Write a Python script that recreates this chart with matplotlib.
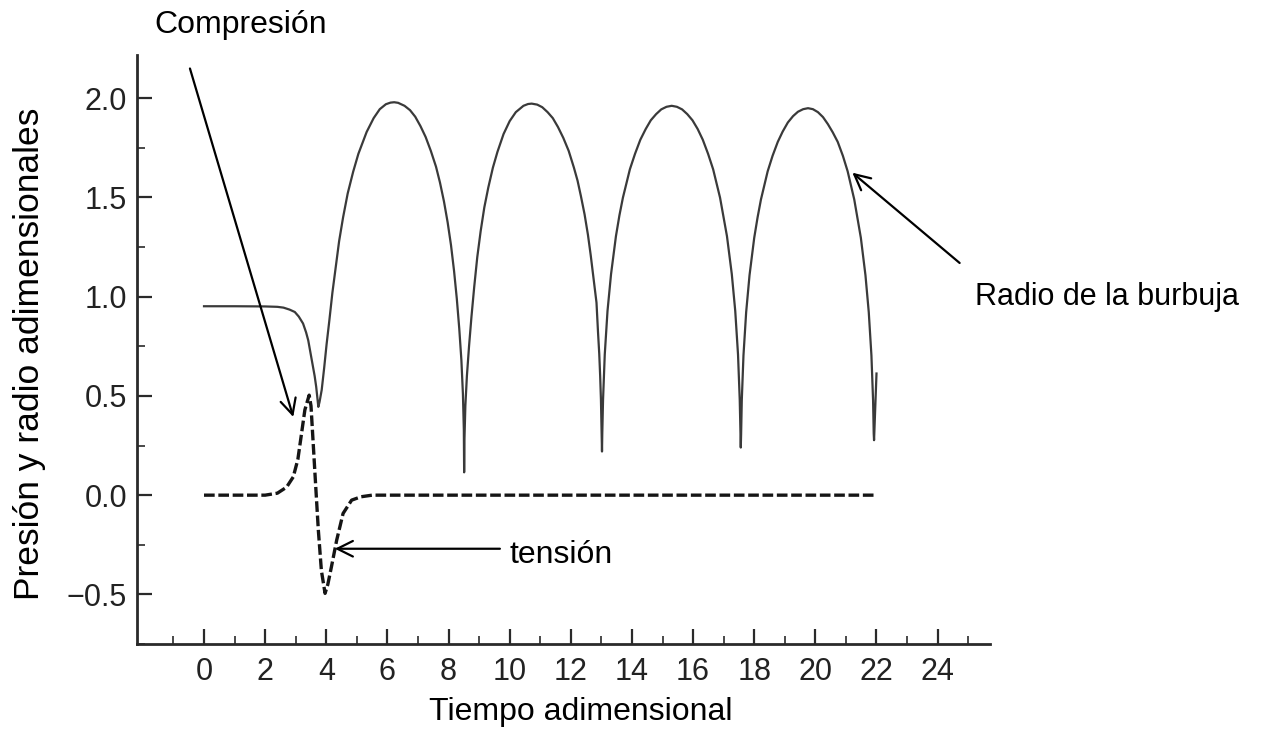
import matplotlib
matplotlib.use('Agg')
import matplotlib.pyplot as plt
from matplotlib.ticker import MultipleLocator, FixedLocator

plt.rcParams['font.family'] = ['Liberation Sans', 'DejaVu Sans']

# Radio de la burbuja (tiempo, radio)
radius_t = [0.0, 1.0, 2.0, 2.4, 2.6, 2.8, 2.97, 3.1, 3.24, 3.34, 3.41, 3.48, 3.55, 3.62, 3.67, 3.71, 3.74,
            # primer arco
            3.78, 3.85, 3.93, 4.01, 4.1, 4.2, 4.3, 4.42, 4.55, 4.7, 4.88, 5.05, 5.32, 5.55, 5.75, 5.95,
            6.1, 6.22, 6.35, 6.56, 6.74, 6.91, 7.08, 7.25, 7.42, 7.59, 7.72, 7.85, 7.97, 8.08, 8.18,
            8.27, 8.35, 8.42, 8.47, 8.50, 8.51,
            # segundo arco
            8.52, 8.55, 8.6, 8.67, 8.75, 8.84, 8.94, 9.05, 9.17, 9.3, 9.45, 9.6, 9.8, 10.0, 10.2, 10.45,
            10.6, 10.72, 10.9, 11.065, 11.24, 11.41, 11.58, 11.755, 11.93, 12.1, 12.22, 12.33, 12.45, 12.56,
            12.65, 12.72, 12.79, 12.84, 12.89, 12.93, 12.96, 12.985, 13.01, 13.02,
            # tercer arco
            13.029, 13.054, 13.11, 13.2, 13.316, 13.476, 13.59, 13.704, 13.932, 14.1, 14.274, 14.45, 14.616,
            14.79, 14.958, 15.13, 15.3, 15.47, 15.64, 15.81, 15.98, 16.15, 16.317, 16.49, 16.656, 16.882,
            17.108, 17.266, 17.379, 17.47, 17.526, 17.549, 17.56,
            # cuarto arco
            17.571, 17.593, 17.648, 17.736, 17.846, 18.0, 18.11, 18.22, 18.44, 18.6, 18.77, 18.93, 19.1,
            19.27, 19.43, 19.6, 19.76, 19.92, 20.084, 20.25, 20.408, 20.57, 20.732, 20.9, 21.056, 21.272,
            21.488, 21.639, 21.747, 21.834, 21.888, 21.909, 21.92, 22.0]
radius_r = [0.952, 0.952, 0.951, 0.949, 0.945, 0.935, 0.923, 0.9, 0.865, 0.82, 0.78, 0.72, 0.663, 0.6, 0.546, 0.49, 0.445,
            0.47, 0.53, 0.64, 0.76, 0.88, 1.02, 1.14, 1.28, 1.40, 1.52, 1.63, 1.72, 1.83, 1.90, 1.945, 1.97,
            1.978, 1.98, 1.977, 1.962, 1.94, 1.907, 1.86, 1.805, 1.735, 1.655, 1.575, 1.48, 1.375, 1.26, 1.13,
            0.99, 0.84, 0.68, 0.51, 0.33, 0.115,
            0.28, 0.45, 0.6, 0.75, 0.9, 1.05, 1.2, 1.33, 1.45, 1.55, 1.65, 1.73, 1.82, 1.885, 1.93, 1.962,
            1.971, 1.973, 1.968, 1.955, 1.93, 1.9, 1.855, 1.80, 1.735, 1.651, 1.585, 1.507, 1.415, 1.312,
            1.21, 1.12, 1.03, 0.97, 0.82, 0.712, 0.6, 0.483, 0.31, 0.22,
            0.31, 0.48, 0.708, 0.928, 1.114, 1.305, 1.41, 1.499, 1.642, 1.72, 1.791, 1.845, 1.889,
            1.92, 1.944, 1.957, 1.962, 1.957, 1.944, 1.92, 1.889, 1.845, 1.791, 1.72, 1.642, 1.499,
            1.305, 1.114, 0.928, 0.708, 0.48, 0.31, 0.24,
            0.308, 0.478, 0.704, 0.922, 1.108, 1.297, 1.4, 1.49, 1.632, 1.71, 1.78, 1.832, 1.878,
            1.91, 1.932, 1.945, 1.95, 1.945, 1.93, 1.905, 1.87, 1.828, 1.78, 1.71, 1.632, 1.49,
            1.297, 1.108, 0.922, 0.704, 0.478, 0.31, 0.277, 0.613]

# Presion (linea discontinua)
pressure_t = [0.0, 2.0, 2.4, 2.7, 2.92, 3.07, 3.19, 3.3, 3.44, 3.5, 3.58, 3.66, 3.74, 3.84, 3.96, 4.05,
              4.17, 4.34, 4.55, 4.83, 5.14, 5.5, 21.94]
pressure_p = [0.0, 0.0, 0.01, 0.04, 0.092, 0.18, 0.31, 0.43, 0.504, 0.45, 0.24, 0.03, -0.176, -0.38, -0.495, -0.45,
              -0.36, -0.227, -0.092, -0.025, -0.008, 0.0, 0.0]

x_ticks = [0, 2, 4, 6, 8, 10, 12, 14, 16, 18, 20, 22, 24]
x_minor = [-1, 1, 3, 5, 7, 9, 11, 13, 15, 17, 19, 21, 23, 25]
y_ticks = [-0.5, 0.0, 0.5, 1.0, 1.5, 2.0]

fig = plt.figure(figsize=(12.71, 7.36), dpi=100)
ax = fig.add_axes([0.1076, 0.125, 0.671, 0.8])

ax.plot(radius_t, radius_r, color='#3a3a3a', linewidth=1.6)
ax.plot(pressure_t, pressure_p, color='#151515', linewidth=2.4, linestyle=(0, (3.2, 1.1)))

ax.set_xlim(-2.2, 25.7)
ax.set_ylim(-0.75, 2.217)
ax.set_xticks(x_ticks)
ax.set_yticks(y_ticks)
ax.xaxis.set_minor_locator(FixedLocator(x_minor))
ax.yaxis.set_minor_locator(MultipleLocator(0.25))
ax.set_yticklabels([f"{v:.1f}".replace('-', '\u2212') for v in y_ticks])

for side in ['top', 'right']:
    ax.spines[side].set_visible(False)
for side in ['left', 'bottom']:
    ax.spines[side].set_linewidth(2.0)
    ax.spines[side].set_color('#2a2a2a')

ax.tick_params(which='major', direction='in', length=11, width=1.6, color='#2a2a2a',
               labelsize=22, labelcolor='#222222')
ax.tick_params(which='minor', direction='in', length=6, width=1.2, color='#2a2a2a')
ax.tick_params(axis='x', which='major', pad=9)
ax.tick_params(axis='y', which='major', pad=7)

fig.text(0.457, 0.033, 'Tiempo adimensional', fontsize=23, ha='center', va='center')
fig.text(0.023, 0.519, 'Presión y radio adimensionales', fontsize=25.5, rotation=90,
         ha='center', va='center')

arrow = dict(arrowstyle='->', color='black', lw=1.6, mutation_scale=28, shrinkA=0, shrinkB=0)
fig.text(0.189, 0.966, 'Compresión', fontsize=23, ha='center', va='center')
ax.annotate('', xy=(2.92, 0.394), xytext=(-0.46, 2.15), arrowprops=arrow, annotation_clip=False)

fig.text(0.401, 0.246, 'tensión', fontsize=23, ha='left', va='center')
ax.annotate('', xy=(4.28, -0.27), xytext=(9.68, -0.27), arrowprops=arrow, annotation_clip=False)

fig.text(0.767, 0.596, 'Radio de la burbuja', fontsize=22, ha='left', va='center')
ax.annotate('', xy=(21.21, 1.625), xytext=(24.72, 1.17), arrowprops=arrow, annotation_clip=False)

fig.savefig('out.png', dpi=100)
